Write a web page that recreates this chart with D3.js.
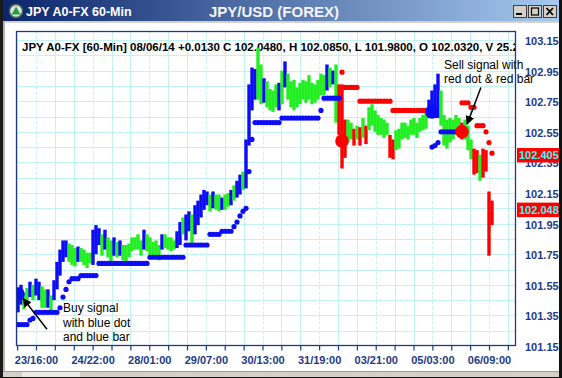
<!DOCTYPE html>
<html><head><meta charset="utf-8">
<script src="https://cdn.jsdelivr.net/npm/d3@7/dist/d3.min.js"></script>
<style>
html,body{margin:0;padding:0;background:#fff;overflow:hidden;}
svg{display:block;font-family:"Liberation Sans",Arial,sans-serif;}
</style></head><body>
<svg id="chart" width="562" height="378"></svg>
<script>
// ---------------- data ----------------
const barHigh = [101.53,101.55,101.50,101.53,101.57,101.55,101.59,101.57,101.54,101.52,
 101.52,101.48,101.58,101.70,101.78,101.84,101.84,101.82,101.81,101.79,
 101.80,101.79,101.78,101.76,101.76,101.91,101.94,101.92,101.88,101.91,
 101.86,101.84,101.86,101.83,101.84,101.81,101.81,101.82,101.86,101.86,
 101.88,101.84,101.91,101.88,101.86,101.83,101.84,101.81,101.88,101.88,
 101.86,101.86,101.84,101.90,101.96,101.99,102.01,102.03,102.01,102.07,
 102.10,102.14,102.17,102.16,102.14,102.16,102.14,102.14,102.12,102.14,
 102.15,102.17,102.20,102.23,102.27,102.29,102.50,102.86,102.97,102.96,
 103.10,102.99,102.90,102.88,102.83,102.82,102.86,102.87,102.95,103.01,
 102.93,102.88,102.89,102.84,102.87,102.89,102.88,102.92,102.87,102.86,
 102.89,102.93,102.92,102.99,102.97,102.95,102.99,102.86,102.86,102.63,
 102.63,102.61,102.57,102.59,102.58,102.64,102.59,102.71,102.73,102.69,
 102.66,102.64,102.63,102.61,102.53,102.50,102.56,102.57,102.61,102.61,
 102.59,102.63,102.64,102.61,102.64,102.66,102.68,102.76,102.82,102.86,
 102.93,102.82,102.66,102.63,102.64,102.63,102.66,102.64,102.61,102.63,
 102.59,102.50,102.44,102.43,102.40,102.44,102.43,102.16,102.10];
const barLow = [101.37,101.42,101.39,101.45,101.47,101.45,101.48,101.45,101.40,101.40,
 101.40,101.37,101.45,101.52,101.61,101.70,101.73,101.70,101.68,101.67,
 101.70,101.70,101.68,101.66,101.69,101.68,101.75,101.81,101.74,101.78,
 101.73,101.70,101.74,101.73,101.74,101.71,101.70,101.73,101.77,101.78,
 101.78,101.74,101.78,101.77,101.74,101.73,101.74,101.71,101.78,101.79,
 101.78,101.77,101.78,101.79,101.81,101.88,101.84,101.90,101.82,101.88,
 101.94,101.99,102.04,102.07,102.03,102.05,102.04,102.03,102.04,102.04,
 102.06,102.07,102.10,102.12,102.14,102.17,102.18,102.46,102.69,102.76,
 102.76,102.73,102.74,102.71,102.69,102.68,102.71,102.69,102.73,102.84,
 102.76,102.71,102.69,102.71,102.73,102.76,102.74,102.76,102.73,102.74,
 102.76,102.79,102.79,102.82,102.84,102.86,102.61,102.53,102.31,102.38,
 102.48,102.50,102.46,102.50,102.46,102.51,102.47,102.56,102.59,102.55,
 102.53,102.53,102.51,102.53,102.38,102.37,102.43,102.44,102.50,102.51,
 102.50,102.53,102.53,102.51,102.55,102.56,102.57,102.64,102.66,102.64,
 102.64,102.59,102.46,102.44,102.48,102.50,102.53,102.54,102.50,102.50,
 102.43,102.37,102.27,102.28,102.23,102.25,102.29,101.74,101.94];
const barColor = ("bbggbgbbgg"+"bgbbbbbggg"+"bggggbbbgb"+"ggbgbggggg"+"ggbgggggbg"+
 "gggbbgbbgb"+"bbbbgbggbg"+"gbgbbgbbbb"+"ggbggggbgb"+"gggggggggg"+
 "gggbgbgrrr"+"ggrgrgrggg"+"ggggrrgggg"+"gggggggbbb"+"bgggggggrg"+"ggrrgrrrr").split('');
// trailing stop per bar (null = none)
const stopVal = [101.29,101.29,101.29,101.29,101.32,101.33,101.37,101.37,101.37,101.37,
 101.37,101.37,101.37,101.37,101.40,101.47,101.52,101.57,101.59,101.59,
 101.59,101.61,101.61,101.61,101.61,101.61,101.61,101.69,101.69,101.69,
 101.69,101.69,101.69,101.69,101.69,101.69,101.69,101.69,101.69,101.69,
 101.69,101.69,101.69,101.69,101.73,101.73,101.73,101.73,101.73,101.73,
 101.73,101.73,101.73,101.73,101.73,101.73,101.81,101.81,101.81,101.81,
 101.81,101.81,101.81,101.81,101.88,101.88,101.88,101.88,101.90,101.90,
 101.90,101.90,101.93,101.96,102.00,102.03,102.05,102.29,102.50,102.61,
 102.61,102.61,102.61,102.61,102.61,102.61,102.61,102.61,102.64,102.64,
 102.64,102.64,102.64,102.64,102.64,102.64,102.64,102.64,102.64,102.64,
 102.64,102.69,102.77,102.77,102.77,102.77,102.77,102.77,102.94,102.84,
 102.84,102.84,102.84,102.84,102.75,102.75,102.75,102.75,102.75,102.75,
 102.75,102.75,102.75,102.75,102.75,102.69,102.69,102.69,102.69,102.69,
 102.69,102.69,102.69,102.69,102.69,102.69,102.69,null,102.45,102.46,
 102.48,102.55,102.55,102.55,102.55,102.55,102.55,102.55,102.74,102.74,
 102.74,102.71,102.71,102.59,102.59,102.59,102.55,102.48,102.41];
const signalIdx = [0, 108, 138, 148];
const signalVal = [101.49, 102.49, 102.68, 102.55];
const signalType = ["buy", "sell", "buy", "sell"];
const yTickLabels = [101.15,101.35,101.55,101.75,101.95,102.15,102.35,102.55,102.75,102.95,103.15];
const xTickPos = [6, 25.33, 44, 63, 81.67, 100.67, 119.33, 138.33, 157];
const xTickLabels = ["23/16:00","24/22:00","28/01:00","29/07:00","30/13:00","31/19:00","03/21:00","05/03:00","06/09:00"];
const flagVals = [102.405, 102.048];
const flagText = ["102.405", "102.048"];
const headerText = "JPY A0-FX [60-Min] 08/06/14  +0.0130 C 102.0480, H 102.0850, L 101.9800, O 102.0320, V 25.24";
const buyNote = {lines:["Buy signal","with blue dot","and blue bar"], textIdx:15, textVal:101.37, fromIdx:9.67, fromVal:101.26, toIdx:1.7, toVal:101.46};
const sellNote = {lines:["Sell signal with","red dot & red bar"], textIdx:142, textVal:102.96, fromIdx:154.3, fromVal:102.84, toIdx:149.7, toVal:102.60};

// ---------------- drawing ----------------
const W = 562, H = 378;
const F = {l:16.5, t:31.5, r:515.5, b:345.5};
const BLUE = '#0c0cf6', GREEN = '#22ee22', RED = '#ff0000', NAVY = '#1c3a86', GRID = '#c2f2f2';
const colorOf = {b:BLUE, g:GREEN, r:RED};
const svg = d3.select('#chart');
const defs = svg.append('defs');

svg.append('rect').attr('width', W).attr('height', H).attr('fill', '#fff');

const x = d3.scaleLinear().domain([0, barHigh.length - 1]).range([18, 492]);
const y = d3.scaleLinear().domain([yTickLabels[0], yTickLabels[yTickLabels.length - 1]]).range([346, 40]);

defs.append('clipPath').attr('id', 'plotclip').append('rect')
  .attr('x', F.l).attr('y', F.t).attr('width', F.r - F.l).attr('height', F.b - F.t);

// grid
const step = (xTickPos[xTickPos.length - 1] - xTickPos[0]) / (xTickPos.length - 1) / 3;
const minor = [];
for (let k = -1; x(xTickPos[0] + k * step) <= F.r; k++) minor.push(xTickPos[0] + k * step);
const grid = svg.append('g').attr('clip-path', 'url(#plotclip)');
grid.selectAll('line.v').data(minor).join('line')
  .attr('x1', d => Math.round(x(d)) + 0.5).attr('x2', d => Math.round(x(d)) + 0.5)
  .attr('y1', F.t).attr('y2', F.b).attr('stroke', GRID).attr('stroke-width', 1)
  .attr('stroke-dasharray', (d, i) => ((i - 1) % 3 === 0) ? '3,2' : null);
const hGrid = [];
for (let i = 0; i < yTickLabels.length; i++) {
  hGrid.push(yTickLabels[i]);
  if (i < yTickLabels.length - 1) hGrid.push((yTickLabels[i] + yTickLabels[i + 1]) / 2);
}
grid.selectAll('line.h').data(hGrid).join('line')
  .attr('x1', F.l).attr('x2', F.r)
  .attr('y1', d => Math.round(y(d)) + 0.5).attr('y2', d => Math.round(y(d)) + 0.5)
  .attr('stroke', GRID).attr('stroke-width', 1);

// header text
svg.append('text').attr('clip-path', 'url(#plotclip)')
  .attr('x', 22).attr('y', 51).attr('font-size', 11.5).attr('font-weight', 'bold')
  .attr('fill', '#000').text(headerText);

const plot = svg.append('g').attr('clip-path', 'url(#plotclip)');
// bars
plot.selectAll('rect.bar').data(barHigh).join('rect')
  .attr('x', (d, i) => x(i) - 1.7).attr('width', 3.4)
  .attr('y', (d, i) => y(barHigh[i]))
  .attr('height', (d, i) => Math.max(1, y(barLow[i]) - y(barHigh[i])))
  .attr('fill', (d, i) => colorOf[barColor[i]]);

// trailing stop dots
function trendAt(i) {
  let t = signalType[0];
  for (let k = 0; k < signalIdx.length; k++) if (signalIdx[k] <= i) t = signalType[k];
  return t;
}
const stops = stopVal.map((v, i) => ({i, v})).filter(d => d.v !== null);
plot.selectAll('circle.stop').data(stops).join('circle')
  .attr('cx', d => x(d.i)).attr('cy', d => y(d.v)).attr('r', 2.6)
  .attr('fill', d => trendAt(d.i) === 'buy' ? BLUE : RED);

// signal dots
plot.selectAll('circle.sig').data(signalIdx).join('circle')
  .attr('cx', d => x(d)).attr('cy', (d, k) => y(signalVal[k])).attr('r', 6.8)
  .attr('fill', (d, k) => signalType[k] === 'buy' ? BLUE : RED);

// annotations
defs.append('marker').attr('id', 'ah').attr('viewBox', '0 0 10 10').attr('refX', 9).attr('refY', 5)
  .attr('markerWidth', 6).attr('markerHeight', 6).attr('markerUnits', 'strokeWidth').attr('orient', 'auto')
  .append('path').attr('d', 'M0,0 L10,5 L0,10 z').attr('fill', '#000');
[buyNote, sellNote].forEach(n => {
  svg.append('line')
    .attr('x1', x(n.fromIdx)).attr('y1', y(n.fromVal)).attr('x2', x(n.toIdx)).attr('y2', y(n.toVal))
    .attr('stroke', '#000').attr('stroke-width', 1.5).attr('marker-end', 'url(#ah)');
  const t = svg.append('text').attr('x', x(n.textIdx)).attr('y', y(n.textVal))
    .attr('font-size', 12).attr('fill', '#000');
  n.lines.forEach((s, k) => t.append('tspan').attr('x', x(n.textIdx)).attr('dy', k ? 14.4 : 0).text(s));
});

// frame
svg.append('rect').attr('x', F.l).attr('y', F.t).attr('width', F.r - F.l).attr('height', F.b - F.t)
  .attr('fill', 'none').attr('stroke', NAVY).attr('stroke-width', 1.3);

// x axis
const xAxis = d3.axisBottom(x).tickValues(minor).tickSize(5).tickPadding(6)
  .tickFormat((d, i) => ((i - 1) % 3 === 0 && (i - 1) / 3 < xTickLabels.length) ? xTickLabels[(i - 1) / 3] : '');
const gx = svg.append('g').attr('transform', `translate(0,${F.b})`).call(xAxis);
gx.select('.domain').remove();
gx.selectAll('line').attr('stroke', NAVY).attr('stroke-width', 1.2);
gx.selectAll('text').attr('font-family', '"Liberation Sans",Arial,sans-serif')
  .attr('font-size', 11).attr('font-weight', 'bold').attr('fill', NAVY);

// y axis
const yAxis = d3.axisRight(y).tickValues(yTickLabels).tickSize(0).tickPadding(0).tickFormat(d3.format('.2f'));
const gy = svg.append('g').attr('transform', 'translate(525,1)').call(yAxis);
gy.select('.domain').remove();
gy.selectAll('text').attr('font-family', '"Liberation Sans",Arial,sans-serif')
  .attr('font-size', 11).attr('font-weight', 'bold').attr('fill', NAVY);

// price flags
flagVals.forEach((v, k) => {
  svg.append('rect').attr('x', 517).attr('y', y(v) - 6).attr('width', 45).attr('height', 14.5).attr('fill', RED);
  svg.append('text').attr('x', 519).attr('y', y(v) + 5).attr('font-size', 11).attr('font-weight', 'bold')
    .attr('fill', '#3ff8f8').text(flagText[k]);
});

// window chrome
const grad = defs.append('linearGradient').attr('id', 'tb').attr('x1', '0').attr('x2', '1');
grad.append('stop').attr('offset', '0').attr('stop-color', '#0a246a');
grad.append('stop').attr('offset', '1').attr('stop-color', '#a6caf0');
svg.append('rect').attr('x', 0).attr('y', 0).attr('width', W).attr('height', 21).attr('fill', 'url(#tb)');
svg.append('rect').attr('x', 0).attr('y', 21).attr('width', W).attr('height', 2).attr('fill', '#d4d0c8');
// icon
svg.append('circle').attr('cx', 16).attr('cy', 11).attr('r', 6.5).attr('fill', '#dfe6df').attr('stroke', '#4e6a58').attr('stroke-width', 1.5);
svg.append('path').attr('d', 'M16,6.5 L20.5,14.5 L11.5,14.5 Z').attr('fill', '#22a040');
svg.append('text').attr('x', 26).attr('y', 16).attr('font-size', 12.5).attr('font-weight', 'bold').attr('fill', '#fff').text('JPY A0-FX 60-Min');
svg.append('text').attr('x', 274).attr('y', 17).attr('text-anchor', 'middle').attr('font-size', 15).attr('font-weight', 'bold').attr('fill', '#f2f5fb').text('JPY/USD (FOREX)');
// buttons
[513, 528, 543].forEach((bx, k) => {
  svg.append('rect').attr('x', bx + 0.5).attr('y', 5.5).attr('width', 13).attr('height', 12).attr('fill', '#d4d0c8')
    .attr('stroke', '#404040').attr('stroke-width', 1);
  if (k === 0) svg.append('rect').attr('x', bx + 3).attr('y', 13).attr('width', 6).attr('height', 2).attr('fill', '#000');
  if (k === 1) svg.append('rect').attr('x', bx + 3.5).attr('y', 8).attr('width', 7).attr('height', 7).attr('fill', 'none').attr('stroke', '#000').attr('stroke-width', 1.2);
  if (k === 2) svg.append('path').attr('d', `M${bx + 3.5},8 L${bx + 10},15 M${bx + 10},8 L${bx + 3.5},15`).attr('stroke', '#000').attr('stroke-width', 1.8);
});
// borders
svg.append('rect').attr('x', 0).attr('y', 0).attr('width', 3).attr('height', H).attr('fill', '#1a1a1a');
svg.append('rect').attr('x', 3).attr('y', 21).attr('width', 2).attr('height', H - 21).attr('fill', '#b8b4ac');
svg.append('rect').attr('x', 559).attr('y', 0).attr('width', 3).attr('height', H).attr('fill', '#111');
svg.append('rect').attr('x', 3).attr('y', 371).attr('width', 556).attr('height', 6).attr('fill', '#d4d0c8');
svg.append('rect').attr('x', 3).attr('y', 371).attr('width', 556).attr('height', 1).attr('fill', '#a09c94');
svg.append('rect').attr('x', 22).attr('y', 372).attr('width', 58).attr('height', 5).attr('fill', '#ebe9e4');
svg.append('rect').attr('x', 0).attr('y', 377).attr('width', W).attr('height', 1).attr('fill', '#111');
</script>
</body></html>
